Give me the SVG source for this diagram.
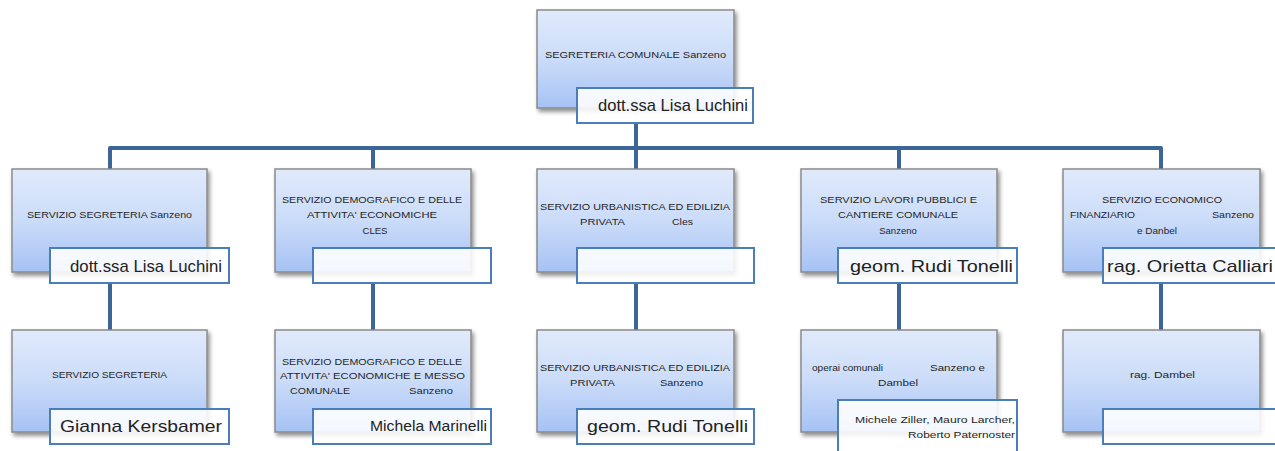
<svg xmlns="http://www.w3.org/2000/svg" width="1275" height="451" viewBox="0 0 1275 451">
<defs>
<linearGradient id="g" x1="0" y1="0" x2="0" y2="1">
<stop offset="0" stop-color="#e0eafb"/>
<stop offset="0.5" stop-color="#cbdcf9"/>
<stop offset="1" stop-color="#a6c2f4"/>
</linearGradient>
<filter id="sh" x="-10%" y="-10%" width="125%" height="130%">
<feDropShadow dx="2" dy="3" stdDeviation="2" flood-color="#000" flood-opacity="0.45"/>
</filter>
</defs>
<style>
.box{fill:url(#g);stroke:#8a8a8a;stroke-width:1.5;filter:url(#sh)}
.nm{fill:#ffffff;fill-opacity:0.88;stroke:#4a7ebb;stroke-width:2}
.t{font-family:"Liberation Sans",Arial,sans-serif;font-size:9.5px;fill:#262626}
.n{font-family:"Liberation Sans",Arial,sans-serif;font-size:17px;fill:#222}
.n2{font-family:"Liberation Sans",Arial,sans-serif;font-size:14px;fill:#222}
.n3{font-family:"Liberation Sans",Arial,sans-serif;font-size:9.5px;fill:#262626}
.c{fill:none;stroke:#3c6698;stroke-width:4;stroke-linejoin:round}
</style>
<g id="connectors">
<path class="c" d="M636 123V148M110 169V148H1161V169M373 148V169M636 148V169M899 148V169"/>
<path class="c" d="M110 283V330M373 283V330M636 283V330M899 283V330M1161 283V330"/>
</g>
<g id="n0">
<rect class="box" x="537" y="10" width="197" height="98"/>
<text class="t" x="545" y="58" textLength="181" lengthAdjust="spacingAndGlyphs">SEGRETERIA  COMUNALE  Sanzeno</text>
<rect class="nm" x="577" y="88" width="176" height="35"/>
<text class="n" x="598" y="111" textLength="150" lengthAdjust="spacingAndGlyphs">dott.ssa Lisa Luchini</text>
</g>
<g id="n1">
<rect class="box" x="12" y="169" width="195" height="103"/>
<text class="t" x="27" y="218" textLength="165" lengthAdjust="spacingAndGlyphs">SERVIZIO SEGRETERIA  Sanzeno</text>
<rect class="nm" x="50" y="248" width="179" height="35"/>
<text class="n" x="70" y="272" textLength="152" lengthAdjust="spacingAndGlyphs">dott.ssa Lisa Luchini</text>
</g>
<g id="n2">
<rect class="box" x="275" y="169" width="196" height="103"/>
<text class="t" x="282" y="203" textLength="180" lengthAdjust="spacingAndGlyphs">SERVIZIO DEMOGRAFICO  E DELLE</text>
<text class="t" x="307" y="218" textLength="130" lengthAdjust="spacingAndGlyphs">ATTIVITA' ECONOMICHE</text>
<text class="t" x="375" y="234" text-anchor="middle">CLES</text>
<rect class="nm" x="313" y="248" width="178" height="35"/>
</g>
<g id="n3">
<rect class="box" x="537" y="169" width="197" height="103"/>
<text class="t" x="540" y="210" textLength="190" lengthAdjust="spacingAndGlyphs">SERVIZIO URBANISTICA   ED EDILIZIA</text>
<text class="t" x="580" y="225" textLength="45" lengthAdjust="spacingAndGlyphs">PRIVATA</text>
<text class="t" x="672" y="225" textLength="21" lengthAdjust="spacingAndGlyphs">Cles</text>
<rect class="nm" x="577" y="248" width="177" height="35"/>
</g>
<g id="n4">
<rect class="box" x="801" y="169" width="196" height="103"/>
<text class="t" x="820" y="203" textLength="157" lengthAdjust="spacingAndGlyphs">SERVIZIO LAVORI  PUBBLICI   E</text>
<text class="t" x="838" y="218" textLength="120" lengthAdjust="spacingAndGlyphs">CANTIERE  COMUNALE</text>
<text class="t" x="898" y="234" text-anchor="middle">Sanzeno</text>
<rect class="nm" x="838" y="248" width="179" height="35"/>
<text class="n" x="850" y="272" textLength="163" lengthAdjust="spacingAndGlyphs">geom. Rudi Tonelli</text>
</g>
<g id="n5">
<rect class="box" x="1063" y="169" width="197" height="103"/>
<text class="t" x="1102" y="203" textLength="120" lengthAdjust="spacingAndGlyphs">SERVIZIO ECONOMICO</text>
<text class="t" x="1070" y="218" textLength="65" lengthAdjust="spacingAndGlyphs">FINANZIARIO</text>
<text class="t" x="1212" y="218" textLength="42" lengthAdjust="spacingAndGlyphs">Sanzeno</text>
<text class="t" x="1137" y="234" textLength="40" lengthAdjust="spacingAndGlyphs">e Danbel</text>
<rect class="nm" x="1103" y="248" width="180" height="35"/>
<text class="n" x="1107" y="272" textLength="166" lengthAdjust="spacingAndGlyphs">rag. Orietta Calliari</text>
</g>
<g id="n6">
<rect class="box" x="12" y="330" width="195" height="102"/>
<text class="t" x="52" y="378" textLength="115" lengthAdjust="spacingAndGlyphs">SERVIZIO SEGRETERIA</text>
<rect class="nm" x="50" y="409" width="179" height="35"/>
<text class="n" x="60" y="432" textLength="162" lengthAdjust="spacingAndGlyphs">Gianna Kersbamer</text>
</g>
<g id="n7">
<rect class="box" x="275" y="330" width="196" height="102"/>
<text class="t" x="282" y="365" textLength="180" lengthAdjust="spacingAndGlyphs">SERVIZIO DEMOGRAFICO  E DELLE</text>
<text class="t" x="280" y="379" textLength="185" lengthAdjust="spacingAndGlyphs">ATTIVITA' ECONOMICHE  E  MESSO</text>
<text class="t" x="290" y="394" textLength="60" lengthAdjust="spacingAndGlyphs">COMUNALE</text>
<text class="t" x="409" y="394" textLength="44" lengthAdjust="spacingAndGlyphs">Sanzeno</text>
<rect class="nm" x="313" y="409" width="178" height="35"/>
<text class="n2" x="370" y="431" textLength="117" lengthAdjust="spacingAndGlyphs">Michela Marinelli</text>
</g>
<g id="n8">
<rect class="box" x="537" y="330" width="197" height="102"/>
<text class="t" x="540" y="371" textLength="190" lengthAdjust="spacingAndGlyphs">SERVIZIO URBANISTICA   ED EDILIZIA</text>
<text class="t" x="570" y="386" textLength="45" lengthAdjust="spacingAndGlyphs">PRIVATA</text>
<text class="t" x="660" y="386" textLength="43" lengthAdjust="spacingAndGlyphs">Sanzeno</text>
<rect class="nm" x="577" y="409" width="177" height="35"/>
<text class="n" x="587" y="432" textLength="161" lengthAdjust="spacingAndGlyphs">geom. Rudi Tonelli</text>
</g>
<g id="n9">
<rect class="box" x="801" y="330" width="196" height="102"/>
<text class="n3" x="812" y="371" textLength="71" lengthAdjust="spacingAndGlyphs">operai  comunali</text>
<text class="n3" x="930" y="371" textLength="55" lengthAdjust="spacingAndGlyphs">Sanzeno  e</text>
<text class="n3" x="878" y="386" textLength="40" lengthAdjust="spacingAndGlyphs">Dambel</text>
<rect class="nm" x="838" y="400" width="179" height="60"/>
<text class="n3" x="855" y="423" textLength="160" lengthAdjust="spacingAndGlyphs">Michele Ziller,  Mauro  Larcher,</text>
<text class="n3" x="908" y="438" textLength="107" lengthAdjust="spacingAndGlyphs">Roberto  Paternoster</text>
</g>
<g id="n10">
<rect class="box" x="1063" y="330" width="197" height="102"/>
<text class="n3" x="1130" y="378" textLength="65" lengthAdjust="spacingAndGlyphs">rag.  Dambel</text>
<rect class="nm" x="1103" y="409" width="180" height="35"/>
</g>
</svg>
